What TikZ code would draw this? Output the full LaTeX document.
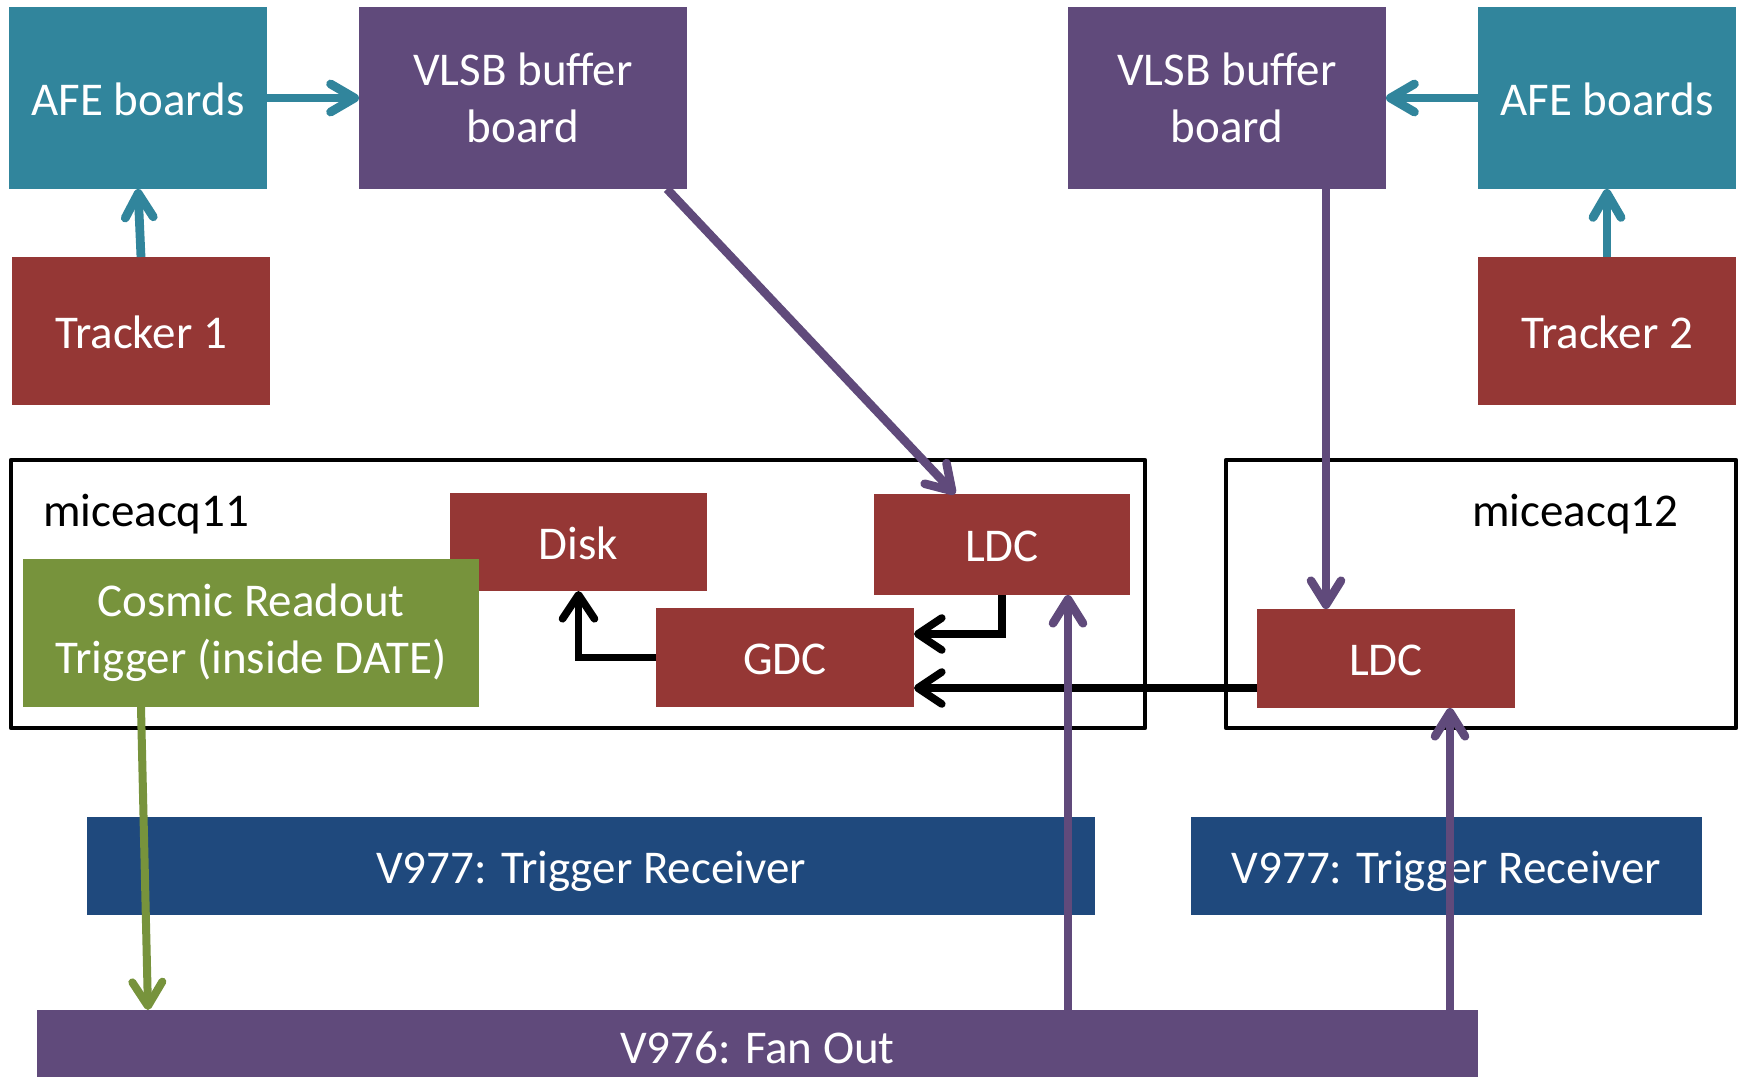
\documentclass[tikz,border=0pt]{standalone}
\usepackage{fontspec}
\setmainfont{Carlito}
\usetikzlibrary{arrows.meta,calc}
\definecolor{cteal}{HTML}{31859C}
\definecolor{cpurple}{HTML}{604A7B}
\definecolor{cred}{HTML}{953735}
\definecolor{cgreen}{HTML}{77933C}
\definecolor{cblue}{HTML}{1F497D}
\tikzset{
  box/.style={rectangle, inner sep=0pt, outer sep=0pt, text=white, align=center,
    font=\fontsize{23.5}{28.5}\selectfont},
  onebox/.style={box, text height=21pt, text depth=4pt},
  frame/.style={rectangle, draw=black, line width=2.25pt, line join=round, inner sep=0pt, outer sep=0pt},
  lbl/.style={inner sep=0pt, outer sep=0pt, text=black, font=\fontsize{23.5}{28.5}\selectfont},
  conn/.style={line width=4.2pt, -{Straight Barb[length=12pt,width=15pt,round]}},
  tealarrow/.style={conn, draw=cteal, line width=4.4pt, -{Straight Barb[length=12pt,width=14pt,round]}},
  purplearrow/.style={conn, draw=cpurple, line width=4.3pt},
  blackarrow/.style={conn, draw=black, line width=3.8pt, -{Straight Barb[length=12pt,width=16pt,round]}},
  greenarrow/.style={conn, draw=cgreen, line width=4pt},
}
\begin{document}
\begin{tikzpicture}[x=0.5pt,y=-0.5pt]
\useasboundingbox (0,0) rectangle (1745,1076);
\fill[white] (0,0) rectangle (1745,1076);

% frames
\node[frame, minimum width=567pt, minimum height=134pt] (m11) at (578,594) {};
\node[frame, minimum width=255pt, minimum height=134pt] (m12) at (1481,594) {};
\node[lbl, anchor=base west] (l11) at (43,526) {miceacq11};
\node[lbl, anchor=base west] (l12) at (1472,526) {miceacq12};

% top boxes
\node[onebox, fill=cteal, minimum width=129pt, minimum height=91pt] (AFE1) at (138,98) {AFE boards};
\node[box, fill=cpurple, minimum width=164pt, minimum height=91pt] (VLSB1) at (523,98) {VLSB buffer\\board};
\node[box, fill=cpurple, minimum width=159pt, minimum height=91pt] (VLSB2) at (1227,98) {VLSB buffer\\board};
\node[onebox, fill=cteal, minimum width=129pt, minimum height=91pt] (AFE2) at (1607,98) {AFE boards};
\node[onebox, fill=cred, minimum width=129pt, minimum height=74pt] (T1) at (141,331) {Tracker 1};
\node[onebox, fill=cred, minimum width=129pt, minimum height=74pt] (T2) at (1607,331) {Tracker 2};

% inner boxes
\node[onebox, fill=cred, minimum width=128.5pt, minimum height=49pt] (Disk) at (578.5,542) {Disk};
\node[onebox, fill=cred, minimum width=128pt, minimum height=50.5pt] (LDC1) at (1002,544.5) {LDC};
\node[box, fill=cgreen, minimum width=228pt, minimum height=74pt] (Cosmic) at (251,633) {Cosmic Readout\\Trigger (inside DATE)};
\node[onebox, fill=cred, minimum width=129pt, minimum height=49.5pt] (GDC) at (785,657.5) {GDC};
\node[onebox, fill=cred, minimum width=129pt, minimum height=49.5pt] (LDC2) at (1386,658.5) {LDC};

% bottom boxes
\node[onebox, fill=cblue, minimum width=504pt, minimum height=49pt] (V977a) at (591,866) {V977: Trigger Receiver};
\node[onebox, fill=cblue, minimum width=255.5pt, minimum height=49pt] (V977b) at (1446.5,866) {V977: Trigger Receiver};
\node[onebox, fill=cpurple, minimum width=720.5pt, minimum height=36pt] (V976) at (757.5,1046) {V976: Fan Out};

% connectors
\draw[blackarrow] (LDC1.south) |- ($(GDC.north east)+(0,26)$);
\draw[blackarrow] ($(LDC2.south west)+(0,-20)$) -- ($(GDC.south east)+(0,-19)$);
\draw[blackarrow] (GDC.west) -| (Disk.south);

\draw[tealarrow] (AFE1.east) -- (VLSB1.west);
\draw[tealarrow] (T1.north) -- (AFE1.south);
\draw[tealarrow] (AFE2.west) -- (VLSB2.east);
\draw[tealarrow] (T2.north) -- (AFE2.south);

\draw[greenarrow] ($(Cosmic.south west)+(118,0)$) -- ($(V976.north west)+(111,0)$);

\draw[purplearrow] ($(VLSB1.south east)+(-20,0)$) -- ($(LDC1.north west)+(81,0)$);
\draw[purplearrow] ($(VLSB2.south west)+(258,0)$) -- ($(LDC2.north west)+(69,0)$);
\draw[purplearrow] ($(V976.north west)+(1031,0)$) -- ($(LDC1.south west)+(194,0)$);
\draw[purplearrow] ($(V976.north west)+(1413,0)$) -- ($(LDC2.south west)+(193,0)$);
\end{tikzpicture}
\end{document}
